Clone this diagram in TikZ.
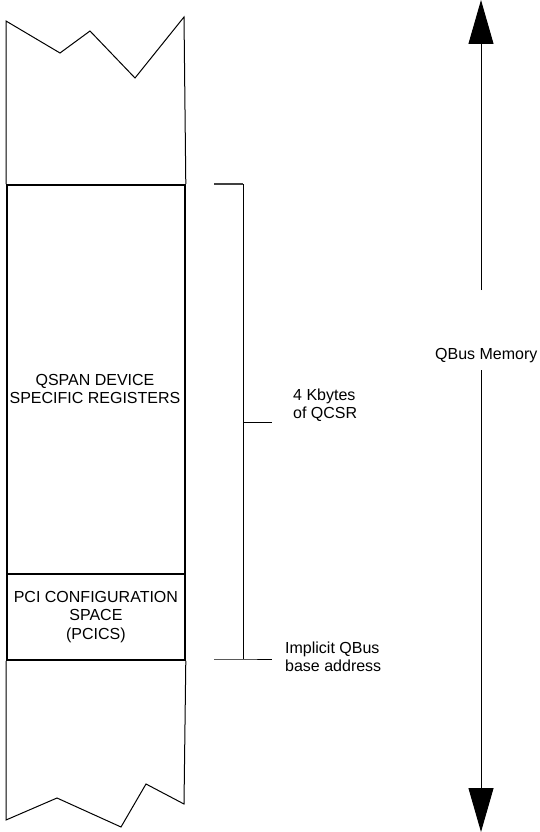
\documentclass[tikz,border=0pt]{standalone}
\usepackage{fontspec}
\setmainfont{Liberation Sans}
\usetikzlibrary{arrows.meta}
\begin{document}
\begin{tikzpicture}[x=1pt,y=-1pt,
  every node/.style={font=\fontsize{16}{18.5}\selectfont, inner sep=0pt},
  regbox/.style={draw, line width=1.8pt, minimum width=178pt, anchor=north west, align=center},
  edge/.style={line width=1pt, line join=miter},
  brk/.style={line width=1pt},
  bigarrow/.style={line width=1pt, -{Triangle[width=25pt,length=44pt]}},
  lbl/.style={align=left, anchor=west}]
\useasboundingbox (0,0) rectangle (540,832);
% register boxes
\node[regbox, minimum height=389pt] (dev) at (6,184) {};
\node[align=center] (devtext) at (95,389) {QSPAN DEVICE\\SPECIFIC REGISTERS};
\node[regbox, minimum height=86pt] (pci) at (6,573) {PCI CONFIGURATION\\SPACE\\(PCICS)};
% memory column edges with broken ends
\draw[edge] (dev.north west) -- (6,21) -- (60,53) -- (90,31) -- (135,78) -- (184,17) -- (dev.north east);
\draw[edge] (pci.south west) -- (6,820) -- (57,798) -- (121,827) -- (146,784) -- (184,804) -- (pci.south east);
% bracket
\coordinate (bt) at (243,184);
\coordinate (bb) at (243,659);
\coordinate (bm) at (243,422);
\draw[brk, draw=black!75, line width=1.6pt] (214,184) -- (bt);
\draw[brk] (bt) -- (bb);
\draw[brk] (214,659) -- (bb) -- (272,659);
\draw[brk] (bm) -- (272,422);
\node[lbl] (qcsr) at (293,405) {4 Kbytes\\of QCSR};
\node[lbl] (base) at (285,657) {Implicit QBus\\base address};
% QBus memory arrow
\node[anchor=west] (mem) at (435,356) {QBus Memory};
\coordinate (atop) at (481,0);
\coordinate (abot) at (481,832);
\draw[bigarrow] (481,290) -- (atop);
\draw[bigarrow] (481,370) -- (abot);
\end{tikzpicture}
\end{document}
